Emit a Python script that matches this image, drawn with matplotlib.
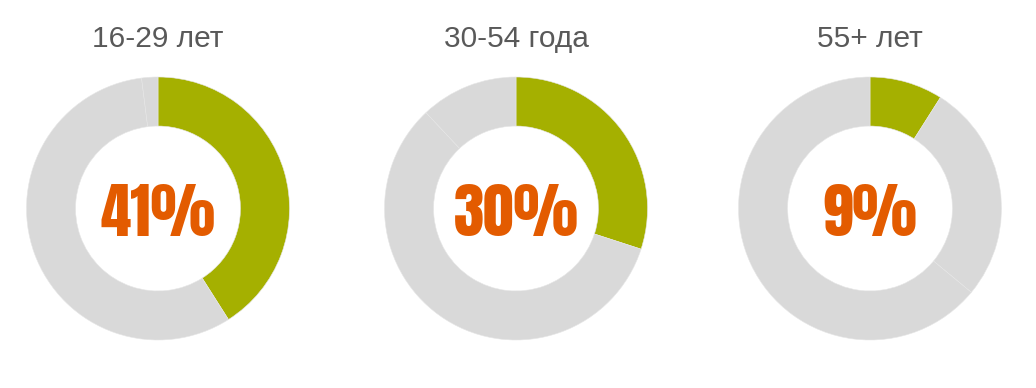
import matplotlib.pyplot as plt

# age groups, share shown in green, the rest split into two grey parts
groups = ["16-29 лет", "30-54 года", "55+ лет"]
share = [41, 30, 9]
rest_a = [57, 58, 27]
rest_b = [2, 12, 64]

GREEN = "#A5B000"
GREY = "#D9D9D9"
ORANGE = "#E35B00"
TITLE = "#595959"

W, H = 1036, 388
centers = [(158, 208.5), (516, 208.5), (870, 208.5)]
R = 131.5

fig = plt.figure(figsize=(W / 100, H / 100), dpi=100)

for i, name in enumerate(groups):
    cx, cy = centers[i]
    ax = fig.add_axes([(cx - R) / W, (H - cy - R) / H, 2 * R / W, 2 * R / H])
    ax.pie([share[i], rest_a[i], rest_b[i]],
           colors=[GREEN, GREY, GREY],
           startangle=90, counterclock=False, radius=1,
           wedgeprops=dict(width=0.373, edgecolor="#E6E6E6", linewidth=0.4))
    ax.set_xlim(-1, 1)
    ax.set_ylim(-1, 1)
    ax.set_aspect("equal")
    ax.axis("off")
    ax.text(0, 1.29, name, ha="center", va="center", fontsize=21.5,
            color=TITLE, family=["Liberation Sans", "DejaVu Sans"], clip_on=False)
    ax.text(0, -0.01, f"{share[i]}%", ha="center", va="center_baseline",
            fontsize=44, color=ORANGE,
            family=["Anton", "DejaVu Sans"], clip_on=False)

fig.savefig("out.png", dpi=100, facecolor="white")
